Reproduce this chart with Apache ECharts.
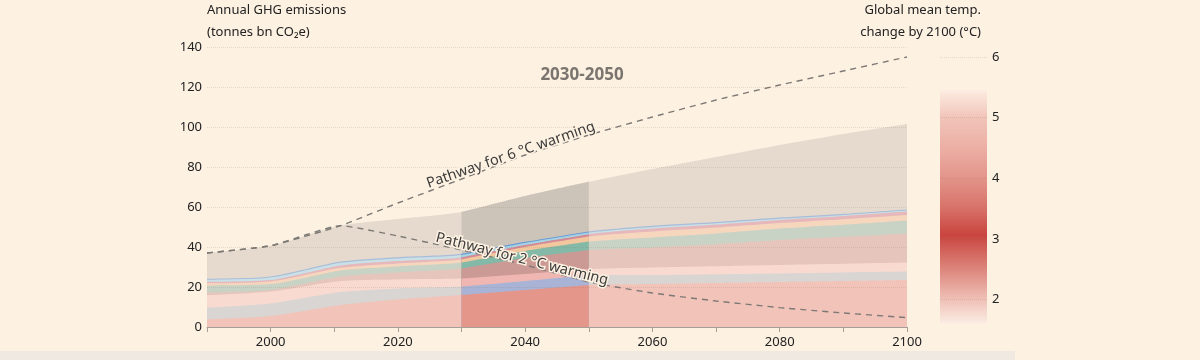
<!DOCTYPE html>
<html><head><meta charset="utf-8">
<script src="https://cdn.jsdelivr.net/npm/echarts@6/dist/echarts.min.js"></script>
<style>html,body{margin:0;padding:0;background:#fdf1e2;} #c{width:1200px;height:360px;}</style>
</head><body><div id="c"></div>
<script>
// ---- data (GtCO2e) ----
const years         = [1990, 2000, 2011, 2020, 2030, 2040, 2050, 2060, 2070, 2080, 2090, 2100];
const bandSalmon    = [3.8, 5.5, 11, 13.8, 16, 18.5, 21, 21.5, 22, 22.5, 23, 23.5];
const bandGray      = [6, 6.3, 6.5, 5.5, 4.2, 4.5, 5, 4.5, 4.4, 4.3, 4.3, 4.2];
const bandLightPink = [6, 5.9, 5.5, 4.5, 4, 3.5, 3, 3.8, 4, 4.2, 4.3, 4.5];
const bandRose      = [1.4, 0.8, 2.3, 3.5, 5, 8, 9.5, 10, 11, 12.5, 13.5, 14.6];
const bandGreen     = [3.6, 3, 3, 3, 3, 3.5, 4.2, 5, 5.4, 5.7, 6, 6.4];
const bandPeach     = [1, 1.2, 1.3, 1.5, 1.6, 2, 2.5, 2.9, 2.9, 2.8, 2.8, 2.8];
const bandPink      = [0.8, 0.8, 1.2, 1.2, 1.0, 1.0, 1.2, 1.5, 1.5, 1.5, 1.6, 1.7];
const bandLightBlue = [1, 1.2, 1.3, 1.3, 1.2, 1.0, 0.8, 0.8, 0.7, 0.6, 0.5, 0.5];
const bandBlue      = [0.5, 0.5, 0.6, 0.6, 0.6, 0.6, 0.6, 0.6, 0.6, 0.6, 0.6, 0.6];
const upperBound    = [37, 40.6, 50.7, 54, 57.5, 65.5, 72.6, 79, 85, 91, 96.5, 101.5];
const path6C        = [37, 40.6, 50.7, 62, 74, 86, 96, 105, 113.5, 121, 128, 135];
const path2C        = [37, 40.6, 50.7, 45.5, 38.5, 31, 22.5, 17, 13, 9.7, 7, 4.7];
const windowStart = 2030, windowEnd = 2050;
const windowLabel = '2030-2050';
const label6C = 'Pathway for 6 °C warming';
const label2C = 'Pathway for 2 °C warming';
const tempScale = [1.6, 5.45];   // extent of the colour bar (°C)
const tempAxis = {min: 1, max: 6, interval: 1};
const emisAxis = {min: 0, max: 140, interval: 20};
const yearAxis = {min: 1990, max: 2100, interval: 10, labelEvery: 20};

const bands = [
  {d: bandSalmon,    c: '#f2c3b9', w: '#e4968b'},
  {d: bandGray,      c: '#d9d5d3', w: '#a9b3d6'},
  {d: bandLightPink, c: '#f9dad0', w: '#f0b7b2'},
  {d: bandRose,      c: '#e6c6bc', w: '#cc9a94'},
  {d: bandGreen,     c: '#c9d3c5', w: '#84b9a8'},
  {d: bandPeach,     c: '#f7d6be', w: '#f2c79d'},
  {d: bandPink,      c: '#e6b8bb', w: '#d48a96'},
  {d: bandLightBlue, c: '#c9e0e6', w: '#a6d4e3'},
  {d: bandBlue,      c: '#a9bcd9', w: '#6a9bd8'}
];
// cumulative tops of each band (stacking done here; top band reaches upperBound)
let run = years.map(() => 0);
bands.forEach(b => { run = run.map((v, i) => v + b.d[i]); b.top = run.slice(); });
bands.push({top: upperBound.slice(), c: '#e5dacd', w: '#cdc4b9'});

const FONT = 'Noto Sans';
const SMOOTH = 0.25;
const series = [];
// draw from the outermost boundary inwards so each inner area covers the one below
for (let k = bands.length - 1; k >= 0; k--) {
  const b = bands[k];
  series.push({
    type: 'line', symbol: 'none', smooth: SMOOTH, z: 2,
    lineStyle: {width: 0}, areaStyle: {color: b.c, opacity: 1},
    data: years.map((y, i) => [y, b.top[i]])
  });
}
for (let k = bands.length - 1; k >= 0; k--) {
  const b = bands[k];
  series.push({
    type: 'line', symbol: 'none', smooth: SMOOTH, z: 3,
    lineStyle: {width: 0}, areaStyle: {color: b.w, opacity: 1},
    data: years.map((y, i) => [y, b.top[i]]).filter(p => p[0] >= windowStart && p[0] <= windowEnd)
  });
}
[path6C, path2C].forEach(p => {
  series.push({
    type: 'line', symbol: 'none', z: 5, smooth: 0.15,
    lineStyle: {color: '#7d7a76', width: 1.4, type: [6, 5]},
    data: years.map((y, i) => [y, p[i]])
  });
});
series.push({
  type: 'custom', xAxisIndex: 1, yAxisIndex: 1, z: 1,
  data: [[0, tempScale[0], tempScale[1]]],
  renderItem: function (params, api) {
    const top = api.coord([api.value(0), api.value(2)]);
    const bot = api.coord([api.value(0), api.value(1)]);
    const w = api.size([1, 0])[0];
    return {type: 'rect', shape: {x: top[0] - w / 2, y: top[1], width: w, height: bot[1] - top[1]},
      style: {fill: new echarts.graphic.LinearGradient(0, 0, 0, 1, [
        {offset: 0, color: '#fcebe2'}, {offset: 0.06, color: '#f7d8cd'},
        {offset: 0.117, color: '#f1c4b9'}, {offset: 0.25, color: '#ecaea4'},
        {offset: 0.377, color: '#e3948a'}, {offset: 0.5, color: '#d8736a'},
        {offset: 0.62, color: '#c9453f'}, {offset: 0.77, color: '#dd877e'},
        {offset: 0.896, color: '#efc0b6'}, {offset: 1, color: '#fbede4'}])}};
  }
});

const chart = echarts.init(document.getElementById('c'));
const gridLine = {show: true, lineStyle: {color: 'rgba(120,95,70,0.16)', type: 'dotted', width: 1}};
chart.setOption({
  backgroundColor: '#fdf1e2',
  animation: false,
  textStyle: {fontFamily: FONT},
  grid: [
    {left: 207, right: 293, top: 47, bottom: 33},
    {left: 940, width: 47, top: 57, height: 327.5}
  ],
  xAxis: [
    {type: 'value', gridIndex: 0, min: yearAxis.min, max: yearAxis.max, interval: yearAxis.interval, z: 6,
     axisLine: {lineStyle: {color: '#a59f98'}},
     axisTick: {show: true, length: 5, lineStyle: {color: '#a59f98'}},
     axisLabel: {color: '#222', fontSize: 13, margin: 9, fontFamily: FONT,
       formatter: v => (v % yearAxis.labelEvery === 0 ? String(v) : '')},
     splitLine: {show: false}},
    {type: 'category', gridIndex: 1, data: ['scale'], show: false}
  ],
  yAxis: [
    {type: 'value', gridIndex: 0, min: emisAxis.min, max: emisAxis.max, interval: emisAxis.interval, z: 6,
     axisLine: {show: false}, axisTick: {show: false},
     axisLabel: {color: '#222', fontSize: 13, margin: 5, fontFamily: FONT},
     splitLine: gridLine},
    {type: 'value', gridIndex: 1, min: tempAxis.min, max: tempAxis.max, interval: tempAxis.interval, position: 'right', z: 6,
     axisLine: {show: false}, axisTick: {show: false},
     axisLabel: {color: '#222', fontSize: 13, margin: 5, fontFamily: FONT,
       formatter: v => (v >= 2 ? String(v) : '')},
     splitLine: gridLine}
  ],
  series: series
});

function interp(arr, yr) {
  for (let i = 0; i < years.length - 1; i++) {
    if (yr >= years[i] && yr <= years[i + 1]) {
      const t = (yr - years[i]) / (years[i + 1] - years[i]);
      return arr[i] + t * (arr[i + 1] - arr[i]);
    }
  }
  return arr[arr.length - 1];
}
function pathLabel(arr, text, yr, off) {
  const a = chart.convertToPixel({gridIndex: 0}, [windowStart, interp(arr, windowStart)]);
  const b = chart.convertToPixel({gridIndex: 0}, [windowEnd, interp(arr, windowEnd)]);
  const p = chart.convertToPixel({gridIndex: 0}, [yr, interp(arr, yr)]);
  const ang = Math.atan2(-(b[1] - a[1]), b[0] - a[0]);
  const nx = -Math.sin(ang), ny = -Math.cos(ang);
  return {type: 'text', x: p[0] + nx * off, y: p[1] + ny * off, rotation: ang, z: 20,
    style: {text: text, fontSize: 14.5, fontFamily: FONT, fill: '#3c3c3c', align: 'center', verticalAlign: 'middle',
      stroke: '#fdf1e2', lineWidth: 3}};
}
chart.setOption({
  graphic: [
    {type: 'rect', z: 0, shape: {x: 0, y: 351, width: 1015, height: 9}, style: {fill: '#f0e9e1'}},
    {type: 'text', x: 207, y: 10, style: {text: 'Annual GHG emissions', fontSize: 13, fontFamily: FONT, fill: '#222', verticalAlign: 'middle'}},
    {type: 'text', x: 207, y: 32, style: {text: '(tonnes bn CO₂e)', fontSize: 13, fontFamily: FONT, fill: '#222', verticalAlign: 'middle'}},
    {type: 'text', x: 981, y: 10, style: {text: 'Global mean temp.', fontSize: 13, fontFamily: FONT, fill: '#222', align: 'right', verticalAlign: 'middle'}},
    {type: 'text', x: 981, y: 32, style: {text: 'change by 2100 (°C)', fontSize: 13, fontFamily: FONT, fill: '#222', align: 'right', verticalAlign: 'middle'}},
    {type: 'text', x: 582, y: 75, z: 20, style: {text: windowLabel, fontSize: 17, fontWeight: 'bold', fontFamily: FONT, fill: '#7a756f', align: 'center', verticalAlign: 'middle'}},
    pathLabel(path6C, label6C, 2038, 5),
    pathLabel(path2C, label2C, 2039.3, 5)
  ]
});
</script></body></html>
